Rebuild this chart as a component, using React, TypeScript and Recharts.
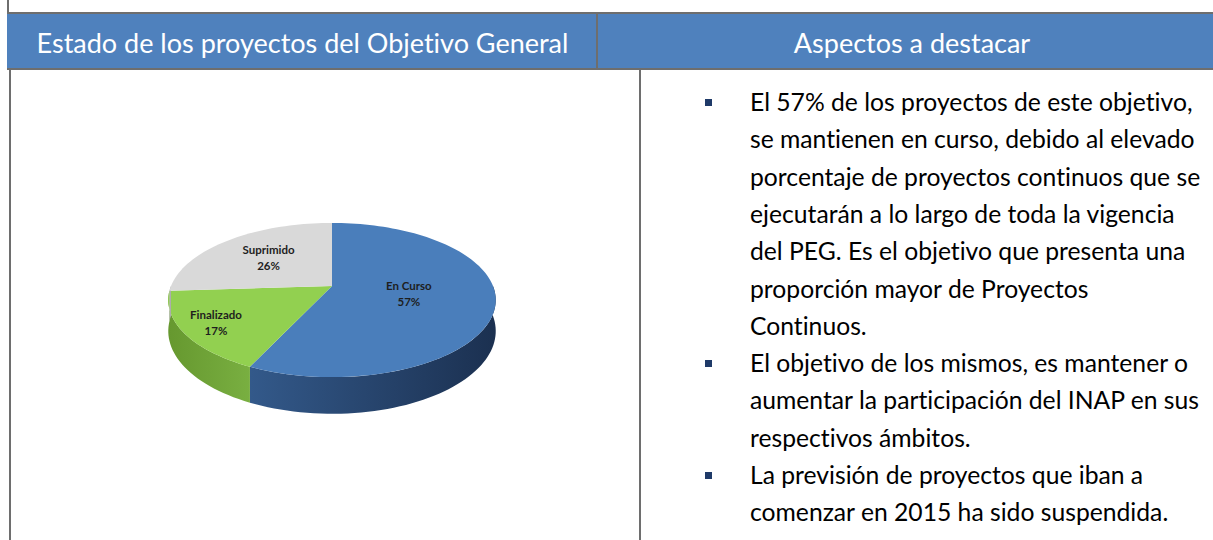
import { Cell, Pie, PieChart } from 'recharts'

// estado de los proyectos (porcentaje)
const estados = ['En Curso', 'Finalizado', 'Suprimido']
const porcentajes = [57, 17, 26]

const topColors = ['#4A7EBB', '#92D050', '#D9D9D9']
const sideColors = [
  ['#33598A', '#1B3050'],
  ['#66982F', '#79AF41'],
  ['#BDBDBD', '#A5A5A5'],
]
// how far from the centre each label sits (fraction of radius)
const labelReach = [0.48, 0.8, 0.58]

const cabeceras = ['Estado de los proyectos del Objetivo General', 'Aspectos a destacar']

const puntos = [
  [
    'El 57% de los proyectos de este objetivo,',
    'se mantienen en curso, debido al elevado',
    'porcentaje de proyectos continuos que se',
    'ejecutarán a lo largo de toda la vigencia',
    'del PEG. Es el objetivo que presenta una',
    'proporción mayor de Proyectos',
    'Continuos.',
  ],
  [
    'El objetivo de los mismos, es mantener o',
    'aumentar la participación del INAP en sus',
    'respectivos ámbitos.',
  ],
  ['La previsión de proyectos que iban a', 'comenzar en 2015 ha sido suspendida.'],
]

const data = estados.map((name, i) => ({ name, value: porcentajes[i] }))

const TILT = 0.463 // ry / rx of the top face
const PERSP = 0.182 // front half looks bigger than the back half
const DEPTH = 30
const RAD = Math.PI / 180
const LINE = 37.3
const FONT = 'Lato, "Open Sans", sans-serif'
const BORDER = '#6E6E6E'

function project(cx: number, cy: number, r: number, angle: number, f = 1) {
  const u = Math.cos(angle * RAD)
  const v = -Math.sin(angle * RAD)
  const d = 1 - PERSP * f * v
  return { x: cx + (r * f * u) / d, y: cy + (r * TILT * f * v) / d, d }
}

function arc(cx: number, cy: number, r: number, from: number, to: number) {
  const n = Math.max(2, Math.ceil(Math.abs(from - to) / 2))
  const pts = []
  for (let i = 0; i <= n; i++) pts.push(project(cx, cy, r, from + ((to - from) * i) / n))
  return pts
}

function Slice3D(props: any) {
  const { cx, cy, outerRadius, startAngle, endAngle } = props
  const name = props.payload?.name ?? props.name
  const idx = Math.max(0, estados.indexOf(name))
  const hi = Math.max(startAngle, endAngle)
  const lo = Math.min(startAngle, endAngle)

  // only the front half of the rim is visible
  const ranges: [number, number][] = []
  for (let k = -1; k <= 1; k++) {
    const a = Math.max(lo, -180 + 360 * k)
    const b = Math.min(hi, 360 * k)
    if (b > a) ranges.push([a, b])
  }

  const top = arc(cx, cy, outerRadius, startAngle, endAngle)
  const topPath = `M${cx},${cy} ` + top.map((p) => `L${p.x},${p.y}`).join(' ') + ' Z'
  const gid = `side-${idx}`

  return (
    <g>
      <defs>
        <linearGradient id={gid} x1="0" y1="0" x2="1" y2="0">
          <stop offset="0%" stopColor={sideColors[idx][0]} />
          <stop offset="100%" stopColor={sideColors[idx][1]} />
        </linearGradient>
      </defs>
      {ranges.map(([a, b], k) => {
        const upper = arc(cx, cy, outerRadius, b, a)
        const lower = upper.map((p) => ({ x: p.x, y: p.y + DEPTH / p.d })).reverse()
        const d =
          upper.map((p, i) => `${i ? 'L' : 'M'}${p.x},${p.y}`).join(' ') +
          ' ' +
          lower.map((p) => `L${p.x},${p.y}`).join(' ') +
          ' Z'
        return <path key={k} d={d} fill={`url(#${gid})`} stroke="none" />
      })}
      <path d={topPath} fill={topColors[idx]} stroke="none" />
    </g>
  )
}

function renderLabel(props: any) {
  const { cx, cy, outerRadius, midAngle, percent } = props
  const name = props.payload?.name ?? props.name
  const idx = Math.max(0, estados.indexOf(name))
  const p = project(cx, cy, outerRadius, midAngle, labelReach[idx])
  return (
    <text
      x={p.x}
      y={p.y}
      textAnchor="middle"
      fontSize={11.5}
      fontWeight={700}
      fill="#1E1E1E"
      fontFamily={FONT}
      style={{ fontVariantLigatures: 'none' }}
    >
      <tspan x={p.x} dy={-4}>
        {name}
      </tspan>
      <tspan x={p.x} dy={16}>
        {Math.round(percent * 100)}%
      </tspan>
    </text>
  )
}

export default function App() {
  let row = 0
  return (
    <div
      style={{
        position: 'absolute',
        left: 0,
        top: 0,
        width: 1213,
        height: 540,
        overflow: 'hidden',
        background: '#fff',
        fontFamily: FONT,
        fontVariantLigatures: 'none',
      }}
    >
      {/* table frame */}
      <div style={{ position: 'absolute', left: 7, top: 0, width: 2, height: 14, background: BORDER }} />
      <div
        style={{
          position: 'absolute',
          left: 7,
          top: 12,
          width: 1230,
          height: 58,
          boxSizing: 'border-box',
          background: '#4F81BD',
          borderTop: `2px solid ${BORDER}`,
          borderBottom: `2px solid ${BORDER}`,
        }}
      />
      <div style={{ position: 'absolute', left: 596, top: 12, width: 2, height: 58, background: BORDER }} />
      <div style={{ position: 'absolute', left: 9, top: 70, width: 2, height: 470, background: BORDER }} />
      <div style={{ position: 'absolute', left: 639, top: 70, width: 2, height: 470, background: BORDER }} />

      {/* headers */}
      {cabeceras.map((t, i) => (
        <div
          key={t}
          style={{
            position: 'absolute',
            left: i === 0 ? 9 : 598,
            width: i === 0 ? 587 : 628,
            top: 27,
            lineHeight: '32px',
            fontSize: 27,
            color: '#fff',
            textAlign: 'center',
            whiteSpace: 'nowrap',
          }}
        >
          {t}
        </div>
      ))}

      {/* pie */}
      <div style={{ position: 'absolute', left: 10, top: 72 }}>
        <PieChart width={628} height={466}>
          <Pie
            data={data}
            dataKey="value"
            nameKey="name"
            cx={317}
            cy={209}
            outerRadius={161}
            startAngle={90}
            endAngle={-270}
            stroke="none"
            isAnimationActive={false}
            shape={(p: any) => <Slice3D {...p} />}
            label={renderLabel}
            labelLine={false}
          >
            {data.map((d, i) => (
              <Cell key={d.name} fill={topColors[i]} />
            ))}
          </Pie>
        </PieChart>
      </div>

      {/* bullets */}
      {puntos.map((lineas, i) => {
        const start = row
        row += lineas.length
        return (
          <div key={i}>
            <div
              style={{
                position: 'absolute',
                left: 705,
                top: 99 + start * LINE,
                width: 7,
                height: 7,
                background: '#1F3A68',
              }}
            />
            {lineas.map((l, j) => (
              <div
                key={j}
                style={{
                  position: 'absolute',
                  left: 750,
                  top: 83 + (start + j) * LINE,
                  lineHeight: `${LINE}px`,
                  fontSize: 24.7,
                  color: '#000',
                  whiteSpace: 'nowrap',
                }}
              >
                {l}
              </div>
            ))}
          </div>
        )
      })}
    </div>
  )
}
